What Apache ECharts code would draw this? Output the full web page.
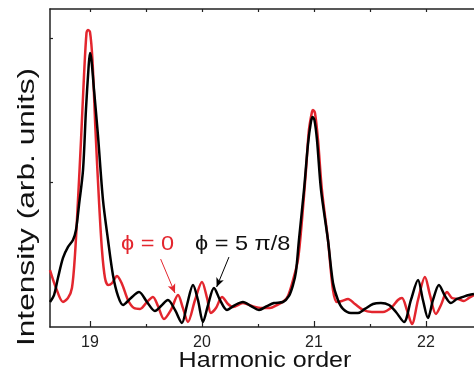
<!DOCTYPE html>
<html>
<head>
<meta charset="utf-8">
<script src="https://cdn.jsdelivr.net/npm/echarts@6/dist/echarts.min.js"></script>
<style>
  html, body { margin: 0; padding: 0; background: #fff; }
  #chart { width: 474px; height: 373px; }
</style>
</head>
<body>
<div id="chart"></div>
<script>
// harmonic order (x) / intensity (y)
const phi0 = [
  [18.643,0.394],[18.697,0.270],[18.759,0.173],[18.804,0.201],[18.839,0.270],[18.866,0.498],
  [18.893,0.879],[18.920,1.294],[18.947,1.744],[18.969,2.035],[18.982,2.055],[19.000,2.042],
  [19.022,1.848],[19.049,1.363],[19.080,0.879],[19.107,0.533],[19.134,0.339],[19.161,0.291],
  [19.197,0.304],[19.241,0.353],[19.286,0.298],[19.339,0.187],[19.393,0.131],[19.447,0.125],
  [19.509,0.173],[19.562,0.208],[19.607,0.145],[19.661,0.055],[19.723,0.118],[19.786,0.221],
  [19.830,0.131],[19.875,0.035],[19.938,0.187],[20.000,0.311],[20.045,0.201],[20.080,0.097],
  [20.125,0.131],[20.179,0.208],[20.232,0.159],[20.277,0.138],[20.366,0.166],[20.446,0.145],
  [20.536,0.131],[20.607,0.131],[20.670,0.152],[20.732,0.180],[20.768,0.215],[20.813,0.325],
  [20.857,0.464],[20.893,0.740],[20.929,1.087],[20.955,1.363],[20.982,1.488],[20.991,1.502],
  [21.009,1.481],[21.036,1.294],[21.071,0.948],[21.125,0.602],[21.170,0.256],[21.205,0.173],
  [21.250,0.180],[21.304,0.194],[21.366,0.159],[21.438,0.118],[21.518,0.104],[21.616,0.104],
  [21.696,0.138],[21.750,0.187],[21.786,0.201],[21.830,0.118],[21.875,0.021],[21.929,0.187],
  [21.991,0.346],[22.036,0.221],[22.089,0.090],[22.134,0.152],[22.188,0.242],[22.232,0.201],
  [22.286,0.194],[22.339,0.180],[22.384,0.201],[22.429,0.221]
];
const phi5pi8 = [
  [18.643,0.173],[18.679,0.221],[18.714,0.339],[18.759,0.478],[18.804,0.554],[18.848,0.602],
  [18.875,0.671],[18.902,0.844],[18.938,1.087],[18.964,1.502],[18.987,1.792],[19.000,1.896],
  [19.013,1.848],[19.036,1.640],[19.071,1.329],[19.116,0.879],[19.161,0.602],[19.205,0.360],
  [19.250,0.215],[19.295,0.152],[19.366,0.201],[19.438,0.242],[19.509,0.173],[19.580,0.111],
  [19.634,0.145],[19.696,0.187],[19.759,0.118],[19.821,0.028],[19.866,0.152],[19.920,0.291],
  [19.964,0.187],[20.009,0.035],[20.054,0.152],[20.107,0.270],[20.161,0.187],[20.223,0.118],
  [20.295,0.152],[20.366,0.173],[20.438,0.145],[20.509,0.118],[20.580,0.145],[20.643,0.166],
  [20.723,0.173],[20.777,0.215],[20.813,0.291],[20.839,0.381],[20.866,0.602],[20.911,0.948],
  [20.946,1.260],[20.973,1.419],[20.988,1.453],[21.004,1.433],[21.027,1.294],[21.063,0.948],
  [21.125,0.602],[21.170,0.304],[21.214,0.187],[21.259,0.125],[21.330,0.097],[21.393,0.097],
  [21.455,0.125],[21.527,0.159],[21.598,0.166],[21.670,0.152],[21.732,0.104],[21.804,0.035],
  [21.866,0.187],[21.929,0.325],[21.973,0.187],[22.018,0.062],[22.063,0.187],[22.116,0.291],
  [22.170,0.215],[22.223,0.166],[22.277,0.194],[22.330,0.208],[22.384,0.221],[22.429,0.228]
];
const majorTicks = [19, 20, 21, 22];
const minorTicks = [19.5, 20.5, 21.5];
const allTicks = [19, 19.5, 20, 20.5, 21, 21.5, 22];
const yTicks = [1, 2];
// arrows: [from, to] in data units
const arrowRed = [[19.631, 0.47], [19.759, 0.235]];
const arrowBlack = [[20.241, 0.484], [20.131, 0.277]];

const RED = '#e3262e';
const font = '"Liberation Sans", Arial, sans-serif';

const chart = echarts.init(document.getElementById('chart'));
chart.setOption({
  animation: false,
  grid: { left: 50, right: 0, top: 9, bottom: 46 },
  xAxis: [
    {
      type: 'value', position: 'bottom', min: 18.643, max: 22.429,
      axisLine: { lineStyle: { color: '#222', width: 1.5 } },
      axisTick: { inside: true, length: 6, customValues: majorTicks, lineStyle: { color: '#222', width: 1.2 } },
      axisLabel: { customValues: majorTicks, fontSize: 16, color: '#222', margin: 8, fontFamily: font },
      splitLine: { show: false }
    },
    {
      type: 'value', position: 'bottom', min: 18.643, max: 22.429,
      axisLine: { show: false },
      axisTick: { inside: true, length: 3, customValues: minorTicks, lineStyle: { color: '#222', width: 1.2 } },
      axisLabel: { show: false },
      splitLine: { show: false }
    },
    {
      type: 'value', position: 'top', min: 18.643, max: 22.429,
      axisLine: { lineStyle: { color: '#222', width: 1.5 } },
      axisTick: { inside: true, length: 3, customValues: allTicks, lineStyle: { color: '#222', width: 1.2 } },
      axisLabel: { show: false },
      splitLine: { show: false }
    }
  ],
  yAxis: {
    type: 'value', min: 0, max: 2.2,
    axisLine: { show: true, lineStyle: { color: '#222', width: 1.5 } },
    axisTick: { show: true, inside: true, length: 3, customValues: yTicks, lineStyle: { color: '#222', width: 1.2 } },
    axisLabel: { show: false },
    splitLine: { show: false }
  },
  series: [
    {
      name: 'phi = 0', type: 'line', data: phi0, smooth: 0.3, symbol: 'none',
      lineStyle: { color: RED, width: 2.5 },
      markLine: {
        silent: true, symbol: ['none', 'arrow'], symbolSize: [6, 9],
        lineStyle: { color: RED, width: 1, type: 'solid' }, label: { show: false },
        data: [[{ coord: arrowRed[0] }, { coord: arrowRed[1] }]]
      }
    },
    {
      name: 'phi = 5pi/8', type: 'line', data: phi5pi8, smooth: 0.3, symbol: 'none',
      lineStyle: { color: '#000', width: 2.5 },
      markLine: {
        silent: true, symbol: ['none', 'arrow'], symbolSize: [6, 9],
        lineStyle: { color: '#000', width: 1, type: 'solid' }, label: { show: false },
        data: [[{ coord: arrowBlack[0] }, { coord: arrowBlack[1] }]]
      }
    }
  ],
  graphic: [
    {
      type: 'text', x: 27, y: 207, rotation: Math.PI / 2, scaleX: 1.32,
      style: { text: 'Intensity (arb. units)', fill: '#111', font: '24px ' + font, textAlign: 'center', textVerticalAlign: 'middle' }
    },
    {
      type: 'text', x: 265, y: 361, scaleX: 1.14,
      style: { text: 'Harmonic order', fill: '#111', font: '22px ' + font, textAlign: 'center', textVerticalAlign: 'middle' }
    },
    {
      type: 'text', x: 121, y: 244, scaleX: 1.12,
      style: { text: 'ϕ = 0', fill: RED, font: '21px ' + font, textAlign: 'left', textVerticalAlign: 'middle' }
    },
    {
      type: 'text', x: 195, y: 244, scaleX: 1.12,
      style: { text: 'ϕ = 5 π/8', fill: '#111', font: '21px ' + font, textAlign: 'left', textVerticalAlign: 'middle' }
    }
  ]
});
</script>
</body>
</html>
